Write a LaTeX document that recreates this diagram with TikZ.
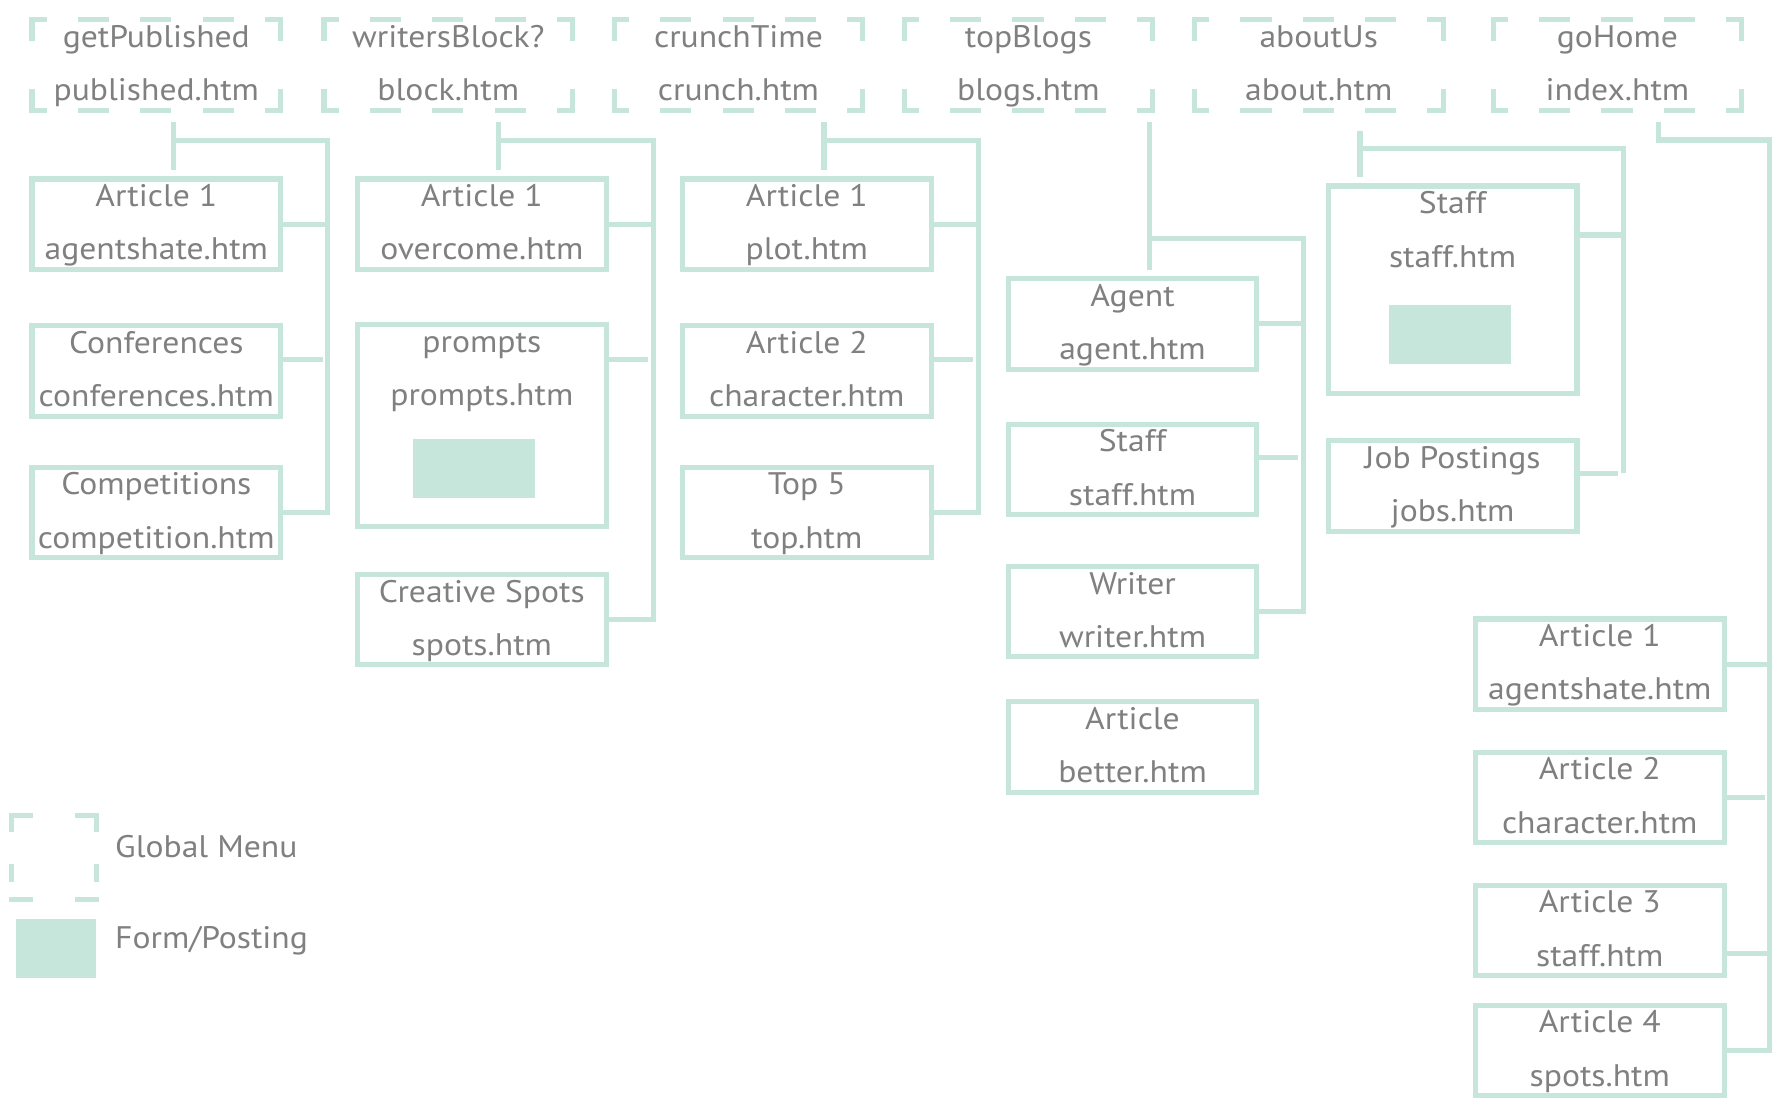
\documentclass[tikz,border=0pt]{standalone}
\usepackage{fontspec}
\setmainfont{PT Sans}[FakeStretch=1.08]
\usetikzlibrary{positioning}

\definecolor{mint}{HTML}{C6E6DB}
\definecolor{ink}{HTML}{808080}

\tikzset{
  caption/.style={text=ink, font=\fontsize{27.5}{47}\selectfont, align=center,
    text height=68.5pt, text depth=5.5pt, inner sep=0pt},
  page/.style={caption, draw=mint, line width=4.5pt, minimum width=219.5pt, minimum height=80pt},
  menu/.style={caption, outer sep=0pt, minimum width=219.5pt, minimum height=80pt},
  menuedge/.style={draw=mint, line width=4.5pt, shorten <=-2.25pt, shorten >=-2.25pt},
  menuh/.style={menuedge, dash pattern=on 27.4pt off 27.6pt, dash phase=12.1pt},
  menuv/.style={menuedge, dash pattern=on 21.25pt off 42.5pt},
  form/.style={fill=mint, minimum width=107.7pt, minimum height=51.9pt, inner sep=0pt, outer sep=0pt},
  link/.style={draw=mint, line width=4.5pt},
  branch/.style={link, shorten >=4.5pt},
  legend text/.style={text=ink, font=\fontsize{27.5}{33}\selectfont, inner sep=0pt, anchor=base west},
}

\begin{document}
\begin{tikzpicture}[x=1pt, y=-1pt]
\useasboundingbox (0,0) rectangle (1568,974);

% global menu
\node[menu] (pub) at (138,57.5) {getPublished\\published.htm};
\node[menu] (blk) at (395.8,57.5) {writersBlock?\\block.htm};
\node[menu] (cru) at (652,57.5) {crunchTime\\crunch.htm};
\node[menu] (blg) at (908,57.5) {topBlogs\\blogs.htm};
\node[menu] (abt) at (1164.3,57.5) {aboutUs\\about.htm};
\node[menu] (hom) at (1428,57.5) {goHome\\index.htm};
\foreach \m in {pub,blk,cru,blg,abt,hom} {
  \draw[menuh] (\m.north west) -- (\m.north east);
  \draw[menuh] (\m.south west) -- (\m.south east);
  \draw[menuv] (\m.north west) -- (\m.south west);
  \draw[menuv] (\m.north east) -- (\m.south east);
}

% getPublished pages
\node[page] (pubArt) at (138,198) {Article 1\\agentshate.htm};
\node[page] (pubConf) at (138,327.5) {Conferences\\conferences.htm};
\node[page] (pubComp) at (138,452.5) {Competitions\\competition.htm};

% writersBlock? pages
\node[page] (blkArt) at (425.4,198) {Article 1\\overcome.htm};
\node[page, minimum height=178pt] (blkPrompts) at (425.4,375.8) {};
\node[caption] (blkPromptsText) at ([yshift=-42.25pt]blkPrompts.north) {prompts\\prompts.htm};
\node[form] (blkForm) at (418.5,413.5) {};
\node[page] (blkSpots) at (425.4,547) {Creative Spots\\spots.htm};

% crunchTime pages
\node[page] (cruArt1) at (712.3,198) {Article 1\\plot.htm};
\node[page] (cruArt2) at (712.3,327.5) {Article 2\\character.htm};
\node[page] (cruTop) at (712.3,452.5) {Top 5\\top.htm};

% topBlogs pages
\node[page] (blgAgent) at (999.9,286) {Agent\\agent.htm};
\node[page] (blgStaff) at (999.9,414.5) {Staff\\staff.htm};
\node[page] (blgWriter) at (999.9,540) {Writer\\writer.htm};
\node[page] (blgArt) at (999.9,659.5) {Article\\better.htm};

% aboutUs pages
\node[page, minimum height=183.5pt] (abtStaff) at (1282.5,256) {};
\node[caption] (abtStaffText) at ([yshift=-42.25pt]abtStaff.north) {Staff\\staff.htm};
\node[form] (abtForm) at (1280,295) {};
\node[page] (abtJobs) at (1282.5,429) {Job Postings\\jobs.htm};

% goHome pages
\node[page] (homArt1) at (1412.4,586.5) {Article 1\\agentshate.htm};
\node[page] (homArt2) at (1412.4,704) {Article 2\\character.htm};
\node[page] (homArt3) at (1412.4,821.5) {Article 3\\staff.htm};
\node[page] (homArt4) at (1412.4,927.5) {Article 4\\spots.htm};

% getPublished links
\coordinate (pubStub) at (153,108);
\coordinate (pubBus) at (289.3,124.2);
\draw[link, shorten >=5.3pt] (pubStub) -- (pubStub |- pubArt.north);
\draw[link] (pubStub |- pubBus) -- (pubBus) |- (pubComp.east);
\draw[link] (pubArt.east) -- (pubArt.east -| pubBus);
\draw[branch] ([yshift=10.5pt]pubConf.east) -- ([yshift=10.5pt]pubConf.east -| pubBus);

% writersBlock? links
\coordinate (blkStub) at (440.3,108);
\coordinate (blkBus) at (576.8,124.2);
\draw[link, shorten >=5.3pt] (blkStub) -- (blkStub |- blkArt.north);
\draw[link] (blkStub |- blkBus) -- (blkBus) |- (blkSpots.east);
\draw[link] (blkArt.east) -- (blkArt.east -| blkBus);
\draw[branch] ([yshift=58.8pt]blkPrompts.east) -- ([yshift=58.8pt]blkPrompts.east -| blkBus);

% crunchTime links
\coordinate (cruStub) at (727.5,108);
\coordinate (cruBus) at (863.7,124.2);
\draw[link, shorten >=5.3pt] (cruStub) -- (cruStub |- cruArt1.north);
\draw[link] (cruStub |- cruBus) -- (cruBus) |- (cruTop.east);
\draw[link] (cruArt1.east) -- (cruArt1.east -| cruBus);
\draw[branch] ([yshift=10.3pt]cruArt2.east) -- ([yshift=10.3pt]cruArt2.east -| cruBus);

% topBlogs links
\coordinate (blgStub) at (1014.7,108);
\coordinate (blgBus) at (1150.6,210.4);
\draw[link, shorten >=5.3pt] (blgStub) -- (blgStub |- blgAgent.north);
\draw[link] (blgStub |- blgBus) -- (blgBus) |- (blgWriter.east);
\draw[link] (blgAgent.east) -- (blgAgent.east -| blgBus);
\draw[branch] ([yshift=10.7pt]blgStaff.east) -- ([yshift=10.7pt]blgStaff.east -| blgBus);

% aboutUs links
\coordinate (abtStub) at (1200.7,115.4);
\coordinate (abtBus) at (1433.2,131);
\draw[link, shorten >=5.3pt] (abtStub) -- (abtStub |- abtStaff.north);
\draw[link] (abtStub |- abtBus) -- (abtBus) -- ([yshift=11.1pt]abtJobs.east -| abtBus);
\draw[link] ([yshift=48.5pt]abtStaff.east) -- ([yshift=48.5pt]abtStaff.east -| abtBus);
\draw[branch] ([yshift=11.1pt]abtJobs.east) -- ([yshift=11.1pt]abtJobs.east -| abtBus);

% goHome links
\coordinate (homStub) at (1464,108);
\coordinate (homBus) at (1562.6,123.6);
\draw[link] (homStub) |- (homBus) |- (homArt4.east);
\draw[link] (homArt1.east) -- (homArt1.east -| homBus);
\draw[branch] (homArt2.east) -- (homArt2.east -| homBus);
\draw[link] ([yshift=-20pt]homArt3.east) -- ([yshift=-20pt]homArt3.east -| homBus);

% legend
\node[menu, minimum width=74.4pt, minimum height=56.4pt] (legMenu) at (47.65,757.35) {};
\draw[menuedge, dash pattern=on 20.6pt off 37.7pt] (legMenu.north west) -- (legMenu.north east);
\draw[menuedge, dash pattern=on 20.6pt off 37.7pt] (legMenu.south west) -- (legMenu.south east);
\draw[menuedge, dash pattern=on 16.2pt off 28.5pt] (legMenu.north west) -- (legMenu.south west);
\draw[menuedge, dash pattern=on 16.2pt off 28.5pt] (legMenu.north east) -- (legMenu.south east);
\node[legend text] (legMenuText) at (101.5,757.5) {Global Menu};
\node[form, minimum width=70.7pt] (legForm) at (49.5,837.3) {};
\node[legend text] (legFormText) at (101.5,837) {Form/Posting};
\end{tikzpicture}
\end{document}
